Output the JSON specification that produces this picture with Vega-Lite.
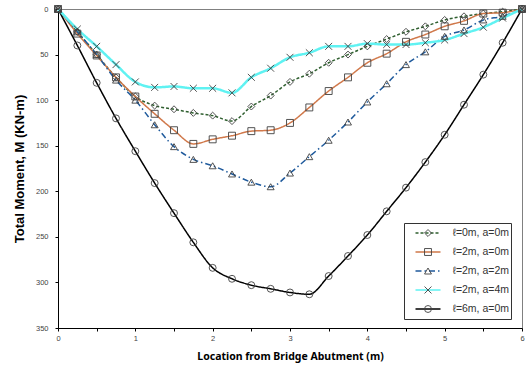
{
  "$schema": "https://vega.github.io/schema/vega-lite/v6.json",
  "width": 464,
  "height": 319,
  "autosize": {"type": "none"},
  "padding": {"left": 58, "top": 9, "right": 8, "bottom": 45},
  "background": "white",
  "config": {
    "view": {"stroke": "#808080", "strokeWidth": 1},
    "font": "Liberation Sans"
  },
  "data": {
    "values": [
      {"x": 0, "M": 0, "s": "ℓ=0m, a=0m"}, {"x": 0.25, "M": 25, "s": "ℓ=0m, a=0m"}, {"x": 0.5, "M": 50, "s": "ℓ=0m, a=0m"}, {"x": 0.75, "M": 75, "s": "ℓ=0m, a=0m"}, {"x": 1, "M": 96, "s": "ℓ=0m, a=0m"}, {"x": 1.25, "M": 106, "s": "ℓ=0m, a=0m"}, {"x": 1.5, "M": 110, "s": "ℓ=0m, a=0m"}, {"x": 1.75, "M": 114, "s": "ℓ=0m, a=0m"}, {"x": 2, "M": 117, "s": "ℓ=0m, a=0m"}, {"x": 2.25, "M": 123, "s": "ℓ=0m, a=0m"}, {"x": 2.5, "M": 107, "s": "ℓ=0m, a=0m"}, {"x": 2.75, "M": 95, "s": "ℓ=0m, a=0m"}, {"x": 3, "M": 80, "s": "ℓ=0m, a=0m"}, {"x": 3.25, "M": 71, "s": "ℓ=0m, a=0m"}, {"x": 3.5, "M": 59, "s": "ℓ=0m, a=0m"}, {"x": 3.75, "M": 50, "s": "ℓ=0m, a=0m"}, {"x": 4, "M": 41, "s": "ℓ=0m, a=0m"}, {"x": 4.25, "M": 33, "s": "ℓ=0m, a=0m"}, {"x": 4.5, "M": 25, "s": "ℓ=0m, a=0m"}, {"x": 4.75, "M": 19, "s": "ℓ=0m, a=0m"}, {"x": 5, "M": 12, "s": "ℓ=0m, a=0m"}, {"x": 5.25, "M": 8, "s": "ℓ=0m, a=0m"}, {"x": 5.5, "M": 5, "s": "ℓ=0m, a=0m"}, {"x": 5.75, "M": 3, "s": "ℓ=0m, a=0m"}, {"x": 6, "M": 0, "s": "ℓ=0m, a=0m"},
      {"x": 0, "M": 0, "s": "ℓ=2m, a=0m"}, {"x": 0.25, "M": 27, "s": "ℓ=2m, a=0m"}, {"x": 0.5, "M": 51, "s": "ℓ=2m, a=0m"}, {"x": 0.75, "M": 75, "s": "ℓ=2m, a=0m"}, {"x": 1, "M": 96, "s": "ℓ=2m, a=0m"}, {"x": 1.25, "M": 115, "s": "ℓ=2m, a=0m"}, {"x": 1.5, "M": 133, "s": "ℓ=2m, a=0m"}, {"x": 1.75, "M": 148, "s": "ℓ=2m, a=0m"}, {"x": 2, "M": 143, "s": "ℓ=2m, a=0m"}, {"x": 2.25, "M": 139, "s": "ℓ=2m, a=0m"}, {"x": 2.5, "M": 134, "s": "ℓ=2m, a=0m"}, {"x": 2.75, "M": 133, "s": "ℓ=2m, a=0m"}, {"x": 3, "M": 125, "s": "ℓ=2m, a=0m"}, {"x": 3.25, "M": 108, "s": "ℓ=2m, a=0m"}, {"x": 3.5, "M": 90, "s": "ℓ=2m, a=0m"}, {"x": 3.75, "M": 75, "s": "ℓ=2m, a=0m"}, {"x": 4, "M": 59, "s": "ℓ=2m, a=0m"}, {"x": 4.25, "M": 49, "s": "ℓ=2m, a=0m"}, {"x": 4.5, "M": 36, "s": "ℓ=2m, a=0m"}, {"x": 4.75, "M": 28, "s": "ℓ=2m, a=0m"}, {"x": 5, "M": 19, "s": "ℓ=2m, a=0m"}, {"x": 5.25, "M": 13, "s": "ℓ=2m, a=0m"}, {"x": 5.5, "M": 5, "s": "ℓ=2m, a=0m"}, {"x": 5.75, "M": 4, "s": "ℓ=2m, a=0m"}, {"x": 6, "M": 0, "s": "ℓ=2m, a=0m"},
      {"x": 0, "M": 0, "s": "ℓ=2m, a=2m"}, {"x": 0.25, "M": 25, "s": "ℓ=2m, a=2m"}, {"x": 0.5, "M": 50, "s": "ℓ=2m, a=2m"}, {"x": 0.75, "M": 78, "s": "ℓ=2m, a=2m"}, {"x": 1, "M": 100, "s": "ℓ=2m, a=2m"}, {"x": 1.25, "M": 127, "s": "ℓ=2m, a=2m"}, {"x": 1.5, "M": 151, "s": "ℓ=2m, a=2m"}, {"x": 1.75, "M": 165, "s": "ℓ=2m, a=2m"}, {"x": 2, "M": 172, "s": "ℓ=2m, a=2m"}, {"x": 2.25, "M": 181, "s": "ℓ=2m, a=2m"}, {"x": 2.5, "M": 190, "s": "ℓ=2m, a=2m"}, {"x": 2.75, "M": 195, "s": "ℓ=2m, a=2m"}, {"x": 3, "M": 180, "s": "ℓ=2m, a=2m"}, {"x": 3.25, "M": 162, "s": "ℓ=2m, a=2m"}, {"x": 3.5, "M": 144, "s": "ℓ=2m, a=2m"}, {"x": 3.75, "M": 124, "s": "ℓ=2m, a=2m"}, {"x": 4, "M": 102, "s": "ℓ=2m, a=2m"}, {"x": 4.25, "M": 82, "s": "ℓ=2m, a=2m"}, {"x": 4.5, "M": 61, "s": "ℓ=2m, a=2m"}, {"x": 4.75, "M": 47, "s": "ℓ=2m, a=2m"}, {"x": 5, "M": 30, "s": "ℓ=2m, a=2m"}, {"x": 5.25, "M": 23, "s": "ℓ=2m, a=2m"}, {"x": 5.5, "M": 12, "s": "ℓ=2m, a=2m"}, {"x": 5.75, "M": 8, "s": "ℓ=2m, a=2m"}, {"x": 6, "M": 0, "s": "ℓ=2m, a=2m"},
      {"x": 0, "M": 0, "s": "ℓ=2m, a=4m"}, {"x": 0.25, "M": 22, "s": "ℓ=2m, a=4m"}, {"x": 0.5, "M": 41, "s": "ℓ=2m, a=4m"}, {"x": 0.75, "M": 61, "s": "ℓ=2m, a=4m"}, {"x": 1, "M": 80, "s": "ℓ=2m, a=4m"}, {"x": 1.25, "M": 86, "s": "ℓ=2m, a=4m"}, {"x": 1.5, "M": 85, "s": "ℓ=2m, a=4m"}, {"x": 1.75, "M": 87, "s": "ℓ=2m, a=4m"}, {"x": 2, "M": 87, "s": "ℓ=2m, a=4m"}, {"x": 2.25, "M": 92, "s": "ℓ=2m, a=4m"}, {"x": 2.5, "M": 75, "s": "ℓ=2m, a=4m"}, {"x": 2.75, "M": 65, "s": "ℓ=2m, a=4m"}, {"x": 3, "M": 53, "s": "ℓ=2m, a=4m"}, {"x": 3.25, "M": 48, "s": "ℓ=2m, a=4m"}, {"x": 3.5, "M": 41, "s": "ℓ=2m, a=4m"}, {"x": 3.75, "M": 41, "s": "ℓ=2m, a=4m"}, {"x": 4, "M": 38, "s": "ℓ=2m, a=4m"}, {"x": 4.25, "M": 39, "s": "ℓ=2m, a=4m"}, {"x": 4.5, "M": 39, "s": "ℓ=2m, a=4m"}, {"x": 4.75, "M": 37, "s": "ℓ=2m, a=4m"}, {"x": 5, "M": 34, "s": "ℓ=2m, a=4m"}, {"x": 5.25, "M": 27, "s": "ℓ=2m, a=4m"}, {"x": 5.5, "M": 20, "s": "ℓ=2m, a=4m"}, {"x": 5.75, "M": 10, "s": "ℓ=2m, a=4m"}, {"x": 6, "M": 0, "s": "ℓ=2m, a=4m"},
      {"x": 0, "M": 0, "s": "ℓ=6m, a=0m"}, {"x": 0.25, "M": 40, "s": "ℓ=6m, a=0m"}, {"x": 0.5, "M": 81, "s": "ℓ=6m, a=0m"}, {"x": 0.75, "M": 120, "s": "ℓ=6m, a=0m"}, {"x": 1, "M": 156, "s": "ℓ=6m, a=0m"}, {"x": 1.25, "M": 191, "s": "ℓ=6m, a=0m"}, {"x": 1.5, "M": 224, "s": "ℓ=6m, a=0m"}, {"x": 1.75, "M": 256, "s": "ℓ=6m, a=0m"}, {"x": 2, "M": 284, "s": "ℓ=6m, a=0m"}, {"x": 2.25, "M": 296, "s": "ℓ=6m, a=0m"}, {"x": 2.5, "M": 303, "s": "ℓ=6m, a=0m"}, {"x": 2.75, "M": 307, "s": "ℓ=6m, a=0m"}, {"x": 3, "M": 311, "s": "ℓ=6m, a=0m"}, {"x": 3.25, "M": 313, "s": "ℓ=6m, a=0m"}, {"x": 3.5, "M": 293, "s": "ℓ=6m, a=0m"}, {"x": 3.75, "M": 271, "s": "ℓ=6m, a=0m"}, {"x": 4, "M": 248, "s": "ℓ=6m, a=0m"}, {"x": 4.25, "M": 222, "s": "ℓ=6m, a=0m"}, {"x": 4.5, "M": 196, "s": "ℓ=6m, a=0m"}, {"x": 4.75, "M": 168, "s": "ℓ=6m, a=0m"}, {"x": 5, "M": 138, "s": "ℓ=6m, a=0m"}, {"x": 5.25, "M": 105, "s": "ℓ=6m, a=0m"}, {"x": 5.5, "M": 72, "s": "ℓ=6m, a=0m"}, {"x": 5.75, "M": 37, "s": "ℓ=6m, a=0m"}, {"x": 6, "M": 0, "s": "ℓ=6m, a=0m"}
    ]
  },
  "encoding": {
    "x": {
      "field": "x", "type": "quantitative",
      "scale": {"domain": [0, 6], "nice": false, "zero": false},
      "axis": {
        "title": "Location from Bridge Abutment (m)",
        "values": [0, 0.5, 1, 1.5, 2, 2.5, 3, 3.5, 4, 4.5, 5, 5.5, 6],
        "labelExpr": "datum.value % 1 === 0 ? format(datum.value, 'd') : ''",
        "labelOverlap": false, "labelFlush": false,
        "grid": false, "domainColor": "#000000", "tickColor": "#000000", "tickSize": 3,
        "labelFontSize": 7.5, "labelColor": "#444444", "labelPadding": 3, "labelFont": "Liberation Sans",
        "titleFontSize": 10.5, "titleFont": "Noto Sans", "titleFontWeight": "bold", "titleColor": "#000000", "titlePadding": 10
      }
    },
    "y": {
      "field": "M", "type": "quantitative",
      "scale": {"domain": [0, 350], "reverse": true, "nice": false},
      "axis": {
        "title": "Total Moment, M (KN-m)",
        "values": [0, 50, 100, 150, 200, 250, 300, 350],
        "labelOverlap": false, "labelFlush": false,
        "grid": false, "domainColor": "#000000", "tickColor": "#000000", "tickSize": 3,
        "labelFontSize": 7.5, "labelColor": "#444444", "labelPadding": 7, "labelFont": "Liberation Sans",
        "titleFontSize": 13, "titleFont": "Liberation Sans", "titleFontWeight": "bold", "titleColor": "#000000", "titlePadding": 9
      }
    }
  },
  "layer": [
    {
      "transform": [{"filter": "datum.s !== 'ℓ=2m, a=4m'"}],
      "mark": {"type": "line", "interpolate": "monotone", "strokeWidth": 1.5},
      "encoding": {
        "color": {
          "field": "s", "type": "nominal",
          "scale": {"domain": ["ℓ=0m, a=0m", "ℓ=2m, a=0m", "ℓ=2m, a=2m", "ℓ=2m, a=4m", "ℓ=6m, a=0m"], "range": ["#2f5f2f", "#d0784a", "#1f5a9c", "#5ff2f2", "#000000"]},
          "legend": {"orient": "none", "legendX": 346, "legendY": 214, "title": null, "symbolType": "stroke", "symbolSize": 625, "symbolStrokeWidth": 1.5, "symbolOffset": 9.5, "labelOffset": 11, "labelFontSize": 10.5, "labelFont": "Liberation Sans", "labelColor": "#333333", "clipHeight": 18, "rowPadding": 1, "padding": 1, "strokeColor": "#333333", "fillColor": "white"}
        },
        "strokeDash": {
          "field": "s", "type": "nominal",
          "scale": {"domain": ["ℓ=0m, a=0m", "ℓ=2m, a=0m", "ℓ=2m, a=2m", "ℓ=2m, a=4m", "ℓ=6m, a=0m"], "range": [[3, 2], [1, 0], [6, 3, 1.5, 3], [1, 0], [1, 0]]},
          "legend": {"orient": "none", "legendX": 346, "legendY": 214, "title": null, "symbolType": "stroke", "symbolSize": 625, "symbolStrokeWidth": 1.5, "symbolOffset": 9.5, "labelOffset": 11, "labelFontSize": 10.5, "labelFont": "Liberation Sans", "labelColor": "#333333", "clipHeight": 18, "rowPadding": 1, "padding": 1, "strokeColor": "#333333", "fillColor": "white"}
        }
      }
    },
    {
      "transform": [{"filter": "datum.s === 'ℓ=2m, a=4m'"}],
      "mark": {"type": "line", "interpolate": "monotone", "strokeWidth": 2.5},
      "encoding": {
        "color": {
          "field": "s", "type": "nominal",
          "scale": {"domain": ["ℓ=0m, a=0m", "ℓ=2m, a=0m", "ℓ=2m, a=2m", "ℓ=2m, a=4m", "ℓ=6m, a=0m"], "range": ["#2f5f2f", "#d0784a", "#1f5a9c", "#5ff2f2", "#000000"]},
          "legend": {"orient": "none", "legendX": 346, "legendY": 214, "title": null, "symbolType": "stroke", "symbolSize": 625, "symbolStrokeWidth": 1.5, "symbolOffset": 9.5, "labelOffset": 11, "labelFontSize": 10.5, "labelFont": "Liberation Sans", "labelColor": "#333333", "clipHeight": 18, "rowPadding": 1, "padding": 1, "strokeColor": "#333333", "fillColor": "white"}
        },
        "strokeDash": {
          "field": "s", "type": "nominal",
          "scale": {"domain": ["ℓ=0m, a=0m", "ℓ=2m, a=0m", "ℓ=2m, a=2m", "ℓ=2m, a=4m", "ℓ=6m, a=0m"], "range": [[3, 2], [1, 0], [6, 3, 1.5, 3], [1, 0], [1, 0]]},
          "legend": {"orient": "none", "legendX": 346, "legendY": 214, "title": null, "symbolType": "stroke", "symbolSize": 625, "symbolStrokeWidth": 1.5, "symbolOffset": 9.5, "labelOffset": 11, "labelFontSize": 10.5, "labelFont": "Liberation Sans", "labelColor": "#333333", "clipHeight": 18, "rowPadding": 1, "padding": 1, "strokeColor": "#333333", "fillColor": "white"}
        }
      }
    },
    {
      "mark": {"type": "point", "filled": false, "color": "#404040", "strokeWidth": 0.9, "size": 48, "opacity": 1},
      "encoding": {
        "shape": {
          "field": "s", "type": "nominal",
          "scale": {"range": ["diamond", "square", "triangle-up", "M-1,-1L1,1M-1,1L1,-1", "circle"]},
          "legend": {"orient": "none", "legendX": 346, "legendY": 214, "title": null, "symbolSize": 48, "symbolStrokeColor": "#404040", "symbolStrokeWidth": 0.9, "symbolFillColor": "transparent", "symbolOffset": 17.75, "labelExpr": "''", "labelFontSize": 10.5, "labelFont": "Liberation Sans", "labelOpacity": 0, "clipHeight": 18, "rowPadding": 1, "padding": 1}
        }
      }
    }
  ]
}
